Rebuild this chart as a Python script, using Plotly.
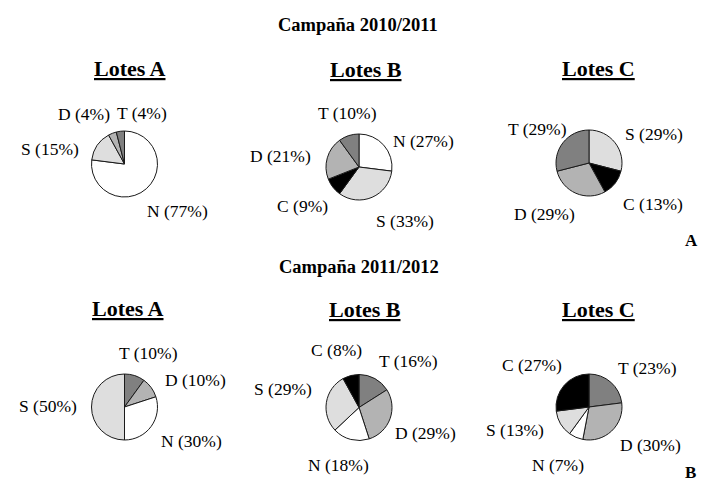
import plotly.graph_objects as go

# ---------------- data ----------------
categories_top = ["N", "S", "C", "D", "T"]          # clockwise from 12 o'clock
categories_bottom = ["T", "D", "N", "S", "C"]       # clockwise from 12 o'clock

campaign_titles = ["Campaña 2010/2011", "Campaña 2011/2012"]
lot_titles = ["Lotes A", "Lotes B", "Lotes C"]
panel_letters = ["A", "B"]

# 2010/2011 (order N, S, C, D, T)
top_A = [77, 15, 0, 4, 4]
top_B = [27, 33, 9, 21, 10]
top_C = [0, 29, 13, 29, 29]
# 2011/2012 (order T, D, N, S, C)
bottom_A = [10, 10, 30, 50, 0]
bottom_B = [16, 29, 18, 29, 8]
bottom_C = [23, 30, 7, 13, 27]

colors = {"N": "#ffffff", "S": "#dedede", "C": "#000000", "D": "#b3b3b3", "T": "#808080"}

# ---------------- layout helpers ----------------
W, H = 710, 482
R = 33
FONT = "Liberation Serif, Times New Roman, serif"

# pie centres in pixels
centres = {
    "top_A": (116.5, 156), "top_B": (351, 159), "top_C": (581, 155),
    "bottom_A": (116.5, 399), "bottom_B": (351, 399.5), "bottom_C": (581, 399),
}
# label centre positions in pixels (hand-placed in the original)
label_pos = {
    "top_A": {"N": (169, 202.5), "S": (42, 141), "D": (76, 106), "T": (134, 105)},
    "top_B": {"N": (415, 133), "S": (396.5, 212.5), "C": (294, 197.5), "D": (272.5, 147.5), "T": (339, 104.5)},
    "top_C": {"S": (646, 126), "C": (645, 196), "D": (536.5, 206), "T": (529, 121)},
    "bottom_A": {"S": (40, 398), "N": (183, 433), "D": (187.5, 372), "T": (140, 344.5)},
    "bottom_B": {"C": (328, 341.5), "S": (275, 381), "N": (330, 456.5), "D": (417.5, 424.5), "T": (400, 352.5)},
    "bottom_C": {"C": (523.5, 356.5), "S": (506.5, 421.5), "N": (550, 456.5), "D": (642.5, 436.5), "T": (639, 360)},
}
title_pos = [(122, 60), (358, 61), (590, 60), (120, 300), (357, 301), (590, 301)]
campaign_pos = [(350, 17), (351, 259)]
letter_pos = [(683, 232), (682, 464)]


def px(x, y):
    return x / W, 1 - y / H


def domain(cx, cy, r):
    return dict(x=[(cx - r) / W, (cx + r) / W], y=[(H - cy - r) / H, (H - cy + r) / H])


fig = go.Figure()
annotations = []

charts = [
    ("top_A", categories_top, top_A),
    ("top_B", categories_top, top_B),
    ("top_C", categories_top, top_C),
    ("bottom_A", categories_bottom, bottom_A),
    ("bottom_B", categories_bottom, bottom_B),
    ("bottom_C", categories_bottom, bottom_C),
]

for key, cats, vals in charts:
    labs = [c for c, v in zip(cats, vals) if v > 0]
    vs = [v for v in vals if v > 0]
    cx, cy = centres[key]
    fig.add_trace(go.Pie(
        labels=labs, values=vs, sort=False, direction="clockwise", rotation=0,
        domain=domain(cx, cy, R),
        marker=dict(colors=[colors[c] for c in labs], line=dict(color="#1a1a1a", width=1)),
        textinfo="none", hoverinfo="label+value", showlegend=False,
    ))
    for c, v in zip(labs, vs):
        lx, ly = label_pos[key][c]
        x, y = px(lx, ly)
        annotations.append(dict(
            text=f"{c} ({v}%)", x=x, y=y, xref="paper", yref="paper",
            xanchor="center", yanchor="middle", showarrow=False,
            font=dict(family=FONT, size=17.5, color="black"),
        ))

for t, (tx, ty) in zip(lot_titles * 2, title_pos):
    x, y = px(tx, ty)
    annotations.append(dict(
        text=f"<b><u>{t}</u></b>", x=x, y=y, xref="paper", yref="paper",
        xanchor="center", yanchor="middle", showarrow=False,
        font=dict(family=FONT, size=22, color="black"),
    ))

for t, (tx, ty) in zip(campaign_titles, campaign_pos):
    x, y = px(tx, ty)
    annotations.append(dict(
        text=f"<b>{t}</b>", x=x, y=y, xref="paper", yref="paper",
        xanchor="center", yanchor="middle", showarrow=False,
        font=dict(family=FONT, size=18.5, color="black"),
    ))

for t, (tx, ty) in zip(panel_letters, letter_pos):
    x, y = px(tx, ty)
    annotations.append(dict(
        text=f"<b>{t}</b>", x=x, y=y, xref="paper", yref="paper",
        xanchor="center", yanchor="middle", showarrow=False,
        font=dict(family=FONT, size=17, color="black"),
    ))

fig.update_layout(
    width=W, height=H, margin=dict(l=0, r=0, t=0, b=0),
    paper_bgcolor="white", plot_bgcolor="white",
    annotations=annotations,
)

fig.write_html("out.html")
